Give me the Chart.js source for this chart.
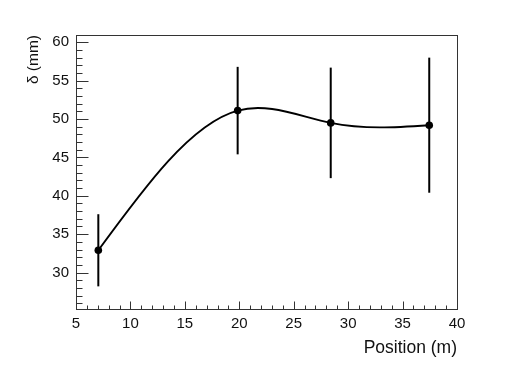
<!DOCTYPE html>
<html>
<head>
<meta charset="utf-8">
<script src="https://cdn.jsdelivr.net/npm/chart.js@4.4.1/dist/chart.umd.min.js"></script>
<style>
  html, body { margin: 0; padding: 0; background: #fff; }
  #wrap { width: 508px; height: 365px; position: relative; }
</style>
</head>
<body>
<div id="wrap"><canvas id="deltaChart"></canvas></div>
<script>
// données
const positions = [7.05, 19.85, 28.4, 37.45];
const deltaVals = [32.9, 51.1, 49.5, 49.2];
const deltaErrs = [4.7, 5.7, 7.2, 8.8];
const xTickVals = [5, 10, 15, 20, 25, 30, 35, 40];
const yTickVals = [30, 35, 40, 45, 50, 55, 60];

const points = positions.map((x, i) => ({ x: x, y: deltaVals[i] }));

// dérivées d'une spline cubique naturelle (comme l'option "C" de ROOT)
function splineSlopes(xs, ys) {
  const n = xs.length;
  const h = [], s = [];
  for (let i = 0; i < n - 1; i++) {
    h.push(xs[i + 1] - xs[i]);
    s.push((ys[i + 1] - ys[i]) / h[i]);
  }
  const M = new Array(n).fill(0);
  const a = [], b = [], c = [], r = [];
  for (let i = 1; i < n - 1; i++) {
    a.push(h[i - 1]); b.push(2 * (h[i - 1] + h[i])); c.push(h[i]);
    r.push(6 * (s[i] - s[i - 1]));
  }
  const m = b.length;
  for (let i = 1; i < m; i++) {
    const w = a[i] / b[i - 1];
    b[i] -= w * c[i - 1];
    r[i] -= w * r[i - 1];
  }
  for (let i = m - 1; i >= 0; i--) {
    M[i + 1] = (r[i] - (i < m - 1 ? c[i] * M[i + 2] : 0)) / b[i];
  }
  const d = [];
  for (let i = 0; i < n - 1; i++) d.push(s[i] - h[i] * (2 * M[i] + M[i + 1]) / 6);
  d.push(s[n - 2] + h[n - 2] * (M[n - 2] + 2 * M[n - 1]) / 6);
  return d;
}

// courbe, barres d'erreur + graduations façon ROOT (vers l'intérieur)
const rootStyle = {
  id: 'rootStyle',
  beforeDatasetsDraw(chart) {
    const { ctx, scales: { x, y } } = chart;
    ctx.save();
    ctx.strokeStyle = '#000';
    ctx.lineWidth = 2;
    positions.forEach((p, i) => {
      const px = x.getPixelForValue(p);
      const top = y.getPixelForValue(deltaVals[i] + deltaErrs[i]);
      const bot = y.getPixelForValue(deltaVals[i] - deltaErrs[i]);
      ctx.beginPath();
      ctx.moveTo(px, top);
      ctx.lineTo(px, bot);
      ctx.stroke();
    });

    const d = splineSlopes(positions, deltaVals);
    ctx.lineWidth = 1.9;
    ctx.beginPath();
    ctx.moveTo(x.getPixelForValue(positions[0]), y.getPixelForValue(deltaVals[0]));
    for (let i = 0; i < positions.length - 1; i++) {
      const h = (positions[i + 1] - positions[i]) / 3;
      ctx.bezierCurveTo(
        x.getPixelForValue(positions[i] + h), y.getPixelForValue(deltaVals[i] + d[i] * h),
        x.getPixelForValue(positions[i + 1] - h), y.getPixelForValue(deltaVals[i + 1] - d[i + 1] * h),
        x.getPixelForValue(positions[i + 1]), y.getPixelForValue(deltaVals[i + 1])
      );
    }
    ctx.stroke();
    ctx.restore();
  },
  afterDraw(chart) {
    const { ctx, chartArea: a, scales: { x, y } } = chart;
    ctx.save();
    ctx.strokeStyle = '#333';
    ctx.lineWidth = 1;
    const L = Math.round(a.left) + 0.5, R = Math.round(a.right) + 0.5;
    const T = Math.round(a.top) + 0.5, B = Math.round(a.bottom) + 0.5;
    ctx.strokeRect(L, T, R - L, B - T);

    ctx.beginPath();
    for (let v = Math.ceil(y.min); v <= y.max; v++) {
      const py = Math.round(y.getPixelForValue(v)) + 0.5;
      const len = v % 5 === 0 ? 12 : 6;
      ctx.moveTo(L, py);
      ctx.lineTo(L + len, py);
    }
    for (let v = Math.ceil(x.min); v <= x.max; v++) {
      const px = Math.round(x.getPixelForValue(v)) + 0.5;
      const len = v % 5 === 0 ? 8 : 4;
      ctx.moveTo(px, B);
      ctx.lineTo(px, B - len);
    }
    ctx.stroke();
    ctx.restore();
  }
};

const tickFont = { family: 'Liberation Sans, Arial, sans-serif', size: 15 };

new Chart(document.getElementById('deltaChart'), {
  type: 'scatter',
  data: {
    datasets: [{
      data: points,
      showLine: false,
      pointRadius: 3.8,
      pointBackgroundColor: '#000',
      pointBorderColor: '#000',
      pointBorderWidth: 0
    }]
  },
  options: {
    responsive: true,
    maintainAspectRatio: false,
    animation: false,
    layout: { padding: { left: 0, top: 35, right: 51, bottom: 0 } },
    plugins: {
      legend: { display: false },
      tooltip: { enabled: false }
    },
    scales: {
      x: {
        type: 'linear',
        min: 5,
        max: 40,
        grid: { display: false, drawTicks: false },
        border: { display: false },
        afterBuildTicks: s => { s.ticks = xTickVals.map(v => ({ value: v })); },
        afterFit: s => { s.height = 56; },
        ticks: { color: '#111', font: tickFont, padding: 6, maxRotation: 0 },
        title: {
          display: true,
          text: 'Position (m)',
          align: 'end',
          color: '#111',
          font: { family: 'Liberation Sans, Arial, sans-serif', size: 17.5 },
          padding: { top: 0, bottom: 6 }
        }
      },
      y: {
        type: 'linear',
        min: 25.25,
        max: 60.95,
        grid: { display: false, drawTicks: false },
        border: { display: false },
        afterBuildTicks: s => { s.ticks = yTickVals.map(v => ({ value: v })); },
        afterFit: s => { s.width = 76; },
        ticks: { color: '#111', font: tickFont, padding: 7 },
        title: {
          display: true,
          text: 'δ (mm)',
          align: 'end',
          color: '#111',
          font: { family: 'Liberation Sans, Arial, sans-serif', size: 15.5 },
          padding: { top: 24, bottom: 0 }
        }
      }
    }
  },
  plugins: [rootStyle]
});
</script>
</body>
</html>
